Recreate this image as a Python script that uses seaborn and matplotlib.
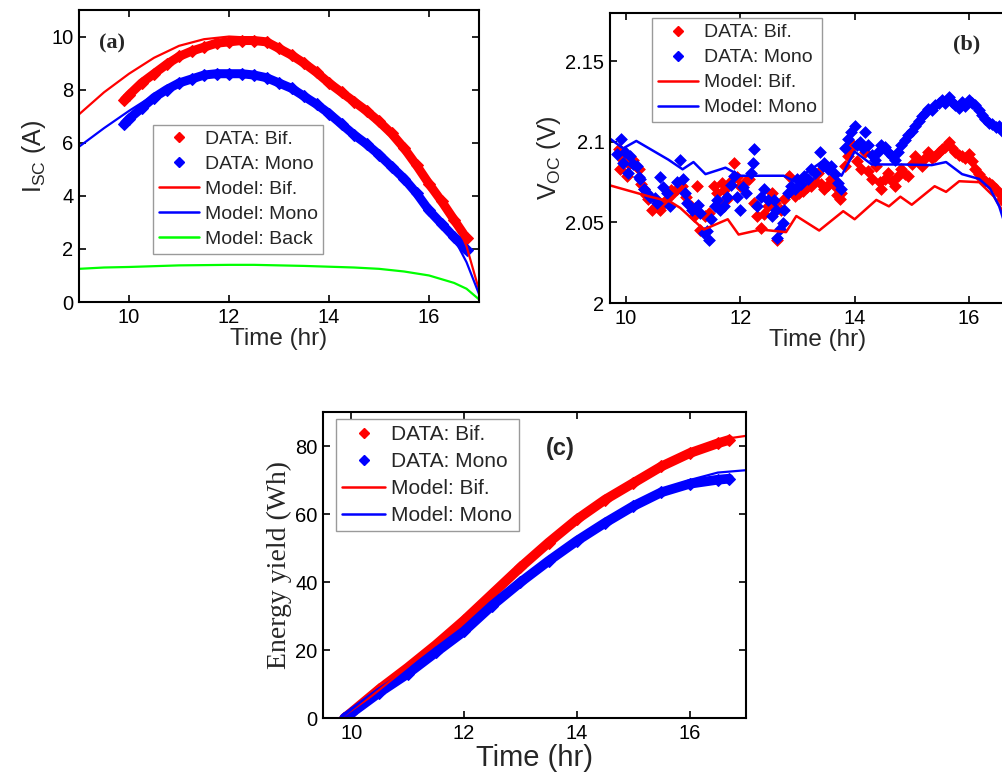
import numpy as np
import pandas as pd
import matplotlib
matplotlib.use('Agg')
import matplotlib.pyplot as plt
from matplotlib.lines import Line2D
from matplotlib.ticker import FormatStrFormatter
import seaborn as sns

# ---- panel (a): short-circuit current ----
a_data_t = [9.9, 10.0, 10.25, 10.5, 10.75, 11.0, 11.25, 11.5, 11.75, 12.0, 12.25, 12.5, 12.75, 13.0,
            13.25, 13.5, 13.75, 14.0, 14.25, 14.5, 14.75, 15.0, 15.25, 15.5, 15.75, 16.0, 16.25, 16.5, 16.75]
a_data_bif = [7.6, 7.8, 8.25, 8.6, 8.95, 9.25, 9.45, 9.6, 9.75, 9.8, 9.85, 9.85, 9.8, 9.55,
              9.3, 9.0, 8.65, 8.25, 7.9, 7.55, 7.2, 6.8, 6.35, 5.8, 5.15, 4.45, 3.8, 3.1, 2.4]
a_data_mono = [6.7, 6.9, 7.3, 7.7, 8.0, 8.25, 8.4, 8.55, 8.6, 8.6, 8.6, 8.55, 8.45, 8.25,
               8.05, 7.75, 7.45, 7.1, 6.7, 6.3, 5.95, 5.55, 5.1, 4.65, 4.1, 3.45, 2.95, 2.45, 1.95]
a_model_t = [9.0, 9.5, 10.0, 10.5, 11.0, 11.5, 12.0, 12.5, 13.0, 13.5, 14.0, 14.5, 15.0, 15.5,
             16.0, 16.5, 16.75, 17.0]
a_model_bif = [7.07, 7.9, 8.6, 9.2, 9.65, 9.9, 10.0, 9.95, 9.65, 9.1, 8.35, 7.6, 6.85, 5.8,
               4.6, 3.2, 2.1, 0.45]
a_model_mono = [5.85, 6.55, 7.2, 7.8, 8.2, 8.5, 8.6, 8.55, 8.3, 7.8, 7.15, 6.35, 5.55, 4.6,
                3.5, 2.4, 1.5, 0.3]
a_model_back = [1.25, 1.3, 1.32, 1.35, 1.38, 1.39, 1.4, 1.4, 1.38, 1.36, 1.33, 1.3, 1.25, 1.15,
                1.0, 0.72, 0.5, 0.1]

# ---- panel (b): open-circuit voltage ----
b_bif_t = [9.87, 9.89, 9.95, 10.01, 10.06, 10.13, 10.18, 10.22, 10.27, 10.31, 10.35, 10.39, 10.45,
           10.52, 10.60, 10.66, 10.72, 10.78, 10.83, 10.90, 10.98, 11.05, 11.13, 11.19, 11.24, 11.30,
           11.38, 11.45, 11.54, 11.60, 11.64, 11.68, 11.72, 11.77, 11.83, 11.89, 11.95, 12.00, 12.08,
           12.15, 12.24, 12.30, 12.36, 12.42, 12.48, 12.56, 12.60, 12.65, 12.72, 12.77, 12.86, 12.95,
           13.02, 13.09, 13.16, 13.24, 13.30, 13.36, 13.42, 13.47, 13.53, 13.59, 13.65, 13.70, 13.74,
           13.77, 13.84, 13.88, 13.94, 13.97, 14.05, 14.12, 14.18, 14.24, 14.30, 14.38, 14.44, 14.47,
           14.53, 14.59, 14.65, 14.71, 14.76, 14.82, 14.88, 14.94, 15.00, 15.06, 15.12, 15.18, 15.24,
           15.29, 15.35, 15.41, 15.47, 15.53, 15.59, 15.65, 15.70, 15.76, 15.82, 15.88, 15.94, 16.00,
           16.05, 16.11, 16.17, 16.23, 16.29, 16.35, 16.41, 16.47, 16.53, 16.58, 16.64]
b_bif_v = [2.0956, 2.083, 2.089, 2.079, 2.086, 2.089, 2.085, 2.083, 2.074, 2.0706, 2.067, 2.0644, 2.058,
           2.060, 2.058, 2.062, 2.0644, 2.070, 2.0685, 2.071, 2.0727, 2.066, 2.060, 2.054, 2.0727, 2.0456,
           2.054, 2.056, 2.0727, 2.0685, 2.062, 2.0748, 2.070, 2.0644, 2.076, 2.087, 2.078, 2.0727, 2.075,
           2.077, 2.062, 2.054, 2.0467, 2.055, 2.060, 2.0685, 2.062, 2.0394, 2.058, 2.0644, 2.079, 2.0665,
           2.068, 2.0696, 2.072, 2.0727, 2.076, 2.081, 2.074, 2.0706, 2.073, 2.077, 2.0727, 2.067, 2.0644,
           2.0685, 2.085, 2.0915, 2.096, 2.098, 2.088, 2.083, 2.0935, 2.082, 2.077, 2.085, 2.075, 2.0706,
           2.077, 2.081, 2.076, 2.0727, 2.079, 2.083, 2.080, 2.079, 2.086, 2.0915, 2.088, 2.085, 2.090,
           2.0935, 2.090, 2.0915, 2.094, 2.0956, 2.097, 2.100, 2.096, 2.0935, 2.092, 2.0915, 2.090, 2.0925,
           2.088, 2.083, 2.080, 2.077, 2.076, 2.0748, 2.073, 2.0706, 2.068, 2.0644, 2.062]
b_mono_t = [9.84, 9.91, 9.95, 9.98, 10.04, 10.07, 10.12, 10.19, 10.22, 10.25, 10.31, 10.36, 10.42,
            10.51, 10.55, 10.60, 10.65, 10.72, 10.77, 10.90, 10.95, 11.00, 11.04, 11.07, 11.15, 11.21,
            11.26, 11.30, 11.36, 11.42, 11.45, 11.48, 11.55, 11.60, 11.65, 11.71, 11.76, 11.83, 11.89,
            11.95, 12.00, 12.05, 12.10, 12.18, 12.22, 12.24, 12.30, 12.36, 12.42, 12.48, 12.56, 12.59,
            12.62, 12.65, 12.70, 12.74, 12.77, 12.84, 12.89, 12.95, 13.00, 13.06, 13.12, 13.18, 13.24,
            13.30, 13.39, 13.44, 13.47, 13.53, 13.59, 13.65, 13.71, 13.77, 13.84, 13.88, 13.94, 14.00,
            14.05, 14.09, 14.14, 14.18, 14.24, 14.30, 14.35, 14.41, 14.47, 14.53, 14.59, 14.65, 14.71,
            14.76, 14.82, 14.88, 14.94, 15.00, 15.06, 15.12, 15.18, 15.24, 15.29, 15.35, 15.41, 15.47,
            15.53, 15.59, 15.65, 15.70, 15.76, 15.82, 15.88, 15.94, 16.00, 16.05, 16.11, 16.17, 16.23,
            16.29, 16.35, 16.41, 16.47, 16.53, 16.58, 16.64]
b_mono_v = [2.0925, 2.102, 2.087, 2.094, 2.081, 2.091, 2.086, 2.085, 2.078, 2.077, 2.071, 2.0685, 2.066,
            2.065, 2.062, 2.078, 2.072, 2.0685, 2.060, 2.075, 2.089, 2.077, 2.068, 2.062, 2.058, 2.059,
            2.061, 2.056, 2.0435, 2.045, 2.039, 2.052, 2.060, 2.064, 2.058, 2.060, 2.066, 2.073, 2.079,
            2.066, 2.058, 2.072, 2.0685, 2.081, 2.087, 2.0956, 2.060, 2.066, 2.0706, 2.064, 2.054, 2.064,
            2.058, 2.0404, 2.046, 2.0498, 2.058, 2.068, 2.0727, 2.071, 2.077, 2.074, 2.079, 2.077, 2.083,
            2.081, 2.0935, 2.085, 2.087, 2.083, 2.085, 2.080, 2.0748, 2.0706, 2.096, 2.102, 2.106, 2.110,
            2.098, 2.100, 2.096, 2.106, 2.098, 2.092, 2.089, 2.094, 2.098, 2.097, 2.0935, 2.091, 2.089,
            2.094, 2.098, 2.101, 2.104, 2.107, 2.110, 2.113, 2.116, 2.118, 2.1206, 2.120, 2.1227, 2.124,
            2.126, 2.124, 2.128, 2.125, 2.1227, 2.121, 2.125, 2.122, 2.126, 2.124, 2.1227, 2.120, 2.1165,
            2.114, 2.112, 2.111, 2.109, 2.110, 2.107, 2.106]
b_model_bif_t = [9.72, 10.42, 10.77, 10.95, 11.36, 11.78, 11.97, 12.36, 12.8, 12.98, 13.38, 13.8, 14.0,
                 14.38, 14.6, 14.8, 15.0, 15.4, 15.6, 15.83, 16.18, 16.44, 16.64, 16.8]
b_model_bif = [2.073, 2.066, 2.063, 2.059, 2.0456, 2.052, 2.0425, 2.0456, 2.044, 2.054, 2.045, 2.057,
               2.052, 2.064, 2.060, 2.066, 2.061, 2.0725, 2.069, 2.0756, 2.075, 2.066, 2.054, 2.035]
b_model_mono_t = [9.72, 9.95, 10.18, 10.74, 10.99, 11.18, 11.39, 11.74, 12.0, 12.76, 12.94, 13.42, 13.77,
                  14.0, 14.3, 14.82, 15.35, 15.6, 15.88, 16.18, 16.37, 16.53, 16.62, 16.8]
b_model_mono = [2.102, 2.096, 2.1006, 2.089, 2.083, 2.0875, 2.08, 2.084, 2.079, 2.079, 2.0756, 2.0875,
                2.079, 2.094, 2.086, 2.086, 2.0856, 2.0875, 2.08, 2.077, 2.071, 2.06, 2.05, 2.025]

# ---- panel (c): energy yield ----
c_data_t = [9.88, 10.0, 10.5, 11.0, 11.5, 12.0, 12.5, 13.0, 13.5, 14.0, 14.5, 15.0, 15.5, 16.0, 16.5, 16.7]
c_data_bif = [0, 1.6, 8.5, 14.8, 21.5, 28.7, 36.5, 44.3, 51.6, 58.4, 64.2, 69.1, 74.0, 77.9, 80.8, 81.8]
c_data_mono = [0, 1.4, 7.5, 13.0, 19.3, 25.5, 33.1, 39.9, 46.2, 52.1, 57.4, 62.3, 66.4, 68.9, 70.1, 70.4]
c_model_t = [9.88, 11.0, 12.0, 13.0, 14.0, 15.0, 16.0, 16.5, 17.0]
c_model_bif = [0, 15.0, 29.0, 44.5, 58.5, 69.5, 78.5, 81.8, 83.0]
c_model_mono = [0, 13.0, 25.5, 40.0, 52.5, 63.0, 70.0, 72.2, 72.9]

RED, BLUE, GREEN = '#ff0000', '#0000ff', '#00ff00'

sns.set_style('ticks')
plt.rcParams['font.family'] = ['Liberation Sans', 'DejaVu Sans']
plt.rcParams['mathtext.fontset'] = 'custom'
plt.rcParams['mathtext.rm'] = 'Liberation Sans'
plt.rcParams['mathtext.it'] = 'Liberation Sans'

fig = plt.figure(figsize=(10.03, 7.75), dpi=100)
ax_a = fig.add_axes([0.0788, 0.6103, 0.3988, 0.3768])
ax_b = fig.add_axes([0.6082, 0.609, 0.4148, 0.3742])
ax_c = fig.add_axes([0.322, 0.0735, 0.4217, 0.3948])


def style_axes(ax, xlabel_size=17.5):
    for s in ax.spines.values():
        s.set_linewidth(1.5)
        s.set_color('black')
    ax.tick_params(direction='in', top=True, right=True, length=5, width=1.2,
                   labelsize=14.5, colors='black', pad=4)
    ax.set_xlabel('Time (hr)', fontsize=xlabel_size, labelpad=1)


def data_handle(color):
    return Line2D([], [], color=color, marker='D', linestyle='none', markersize=5.5)


def line_handle(color):
    return Line2D([], [], color=color, lw=1.8)


def leg_kw(size=14):
    return dict(fontsize=size, frameon=True, fancybox=False, framealpha=1, edgecolor='#9a9a9a',
                handlelength=2.05, handletextpad=0.3, labelspacing=0.38, borderpad=0.3,
                borderaxespad=0)


# ---- (a) ----
sns.lineplot(x=a_data_t, y=a_data_bif, ax=ax_a, color=RED, lw=6.5, marker='D', markersize=6,
             markeredgecolor=RED, sort=False)
sns.lineplot(x=a_data_t, y=a_data_mono, ax=ax_a, color=BLUE, lw=6.5, marker='D', markersize=6,
             markeredgecolor=BLUE, sort=False)
sns.lineplot(x=a_model_t, y=a_model_bif, ax=ax_a, color=RED, lw=1.6, sort=False)
sns.lineplot(x=a_model_t, y=a_model_mono, ax=ax_a, color=BLUE, lw=1.6, sort=False)
sns.lineplot(x=a_model_t, y=a_model_back, ax=ax_a, color=GREEN, lw=1.6, sort=False)
ax_a.set_xlim(9, 17)
ax_a.set_ylim(0, 11)
ax_a.set_xticks([10, 12, 14, 16])
ax_a.set_yticks([0, 2, 4, 6, 8, 10])
style_axes(ax_a)
ax_a.set_ylabel(r'I$_{\rm SC}$ (A)', fontsize=18, labelpad=2)
ax_a.text(0.083, 0.884, '(a)', transform=ax_a.transAxes, ha='center', va='center',
          fontsize=16, fontweight='bold', family='Liberation Serif')
ax_a.legend([data_handle(RED), data_handle(BLUE), line_handle(RED), line_handle(BLUE), line_handle(GREEN)],
            ['DATA: Bif.', 'DATA: Mono', 'Model: Bif.', 'Model: Mono', 'Model: Back'],
            loc='lower left', bbox_to_anchor=(0.185, 0.164), **leg_kw())

# ---- (b) ----
sns.scatterplot(x=b_bif_t, y=b_bif_v, ax=ax_b, color=RED, marker='D', s=36, edgecolor=RED, linewidth=0.5)
sns.scatterplot(x=b_mono_t, y=b_mono_v, ax=ax_b, color=BLUE, marker='D', s=36, edgecolor=BLUE, linewidth=0.5)
sns.lineplot(x=b_model_bif_t, y=b_model_bif, ax=ax_b, color=RED, lw=1.8, sort=False)
sns.lineplot(x=b_model_mono_t, y=b_model_mono, ax=ax_b, color=BLUE, lw=1.8, sort=False)
ax_b.set_xlim(9.72, 17)
ax_b.set_ylim(2, 2.18)
ax_b.set_xticks([10, 12, 14, 16])
ax_b.set_yticks([2, 2.05, 2.1, 2.15])
ax_b.yaxis.set_major_formatter(FormatStrFormatter('%g'))
style_axes(ax_b)
ax_b.set_ylabel(r'V$_{\rm OC}$ (V)', fontsize=18, labelpad=2)
ax_b.text(0.858, 0.89, '(b)', transform=ax_b.transAxes, ha='center', va='center',
          fontsize=16, fontweight='bold', family='Liberation Serif')
ax_b.legend([data_handle(RED), data_handle(BLUE), line_handle(RED), line_handle(BLUE)],
            ['DATA: Bif.', 'DATA: Mono', 'Model: Bif.', 'Model: Mono'],
            loc='upper left', bbox_to_anchor=(0.101, 0.983), **leg_kw())

# ---- (c) ----
sns.lineplot(x=c_data_t, y=c_data_bif, ax=ax_c, color=RED, lw=7, marker='D', markersize=6,
             markeredgecolor=RED, sort=False)
sns.lineplot(x=c_data_t, y=c_data_mono, ax=ax_c, color=BLUE, lw=7, marker='D', markersize=6,
             markeredgecolor=BLUE, sort=False)
sns.lineplot(x=c_model_t, y=c_model_bif, ax=ax_c, color=RED, lw=1.6, sort=False)
sns.lineplot(x=c_model_t, y=c_model_mono, ax=ax_c, color=BLUE, lw=1.6, sort=False)
ax_c.set_xlim(9.5, 17)
ax_c.set_ylim(0, 90)
ax_c.set_xticks([10, 12, 14, 16])
ax_c.set_yticks([0, 20, 40, 60, 80])
style_axes(ax_c, xlabel_size=21)
ax_c.set_ylabel('Energy yield (Wh)', fontsize=20, family='Liberation Serif', labelpad=2)
ax_c.text(0.56, 0.882, '(c)', transform=ax_c.transAxes, ha='center', va='center',
          fontsize=17, fontweight='bold')
ax_c.legend([data_handle(RED), data_handle(BLUE), line_handle(RED), line_handle(BLUE)],
            ['DATA: Bif.', 'DATA: Mono', 'Model: Bif.', 'Model: Mono'],
            loc='upper left', bbox_to_anchor=(0.031, 0.977), **leg_kw(15))

fig.savefig('out.png', dpi=100)
